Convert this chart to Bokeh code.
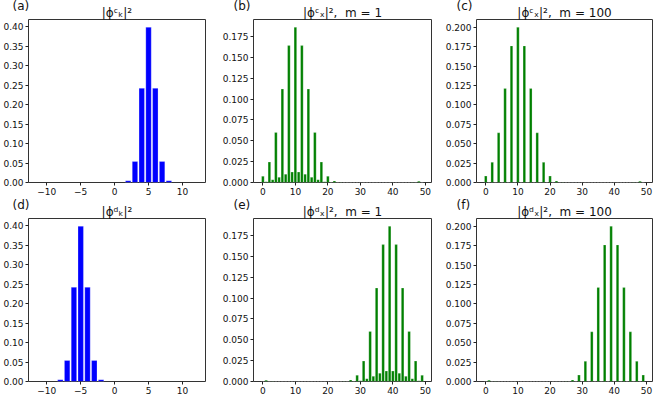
from bokeh.plotting import figure
from bokeh.models import FixedTicker, Range1d, PrintfTickFormatter, Title
from bokeh.layouts import row, column
from bokeh.embed import file_html
from bokeh.resources import INLINE

# ---------------- data ----------------
k_c = [2, 3, 4, 5, 6, 7, 8]
prob_k_c = [0.0045, 0.054, 0.242, 0.399, 0.242, 0.054, 0.0045]

k_d = [-8, -7, -6, -5, -4, -3, -2]
prob_k_d = [0.0045, 0.054, 0.242, 0.399, 0.242, 0.054, 0.0045]

sites = list(range(50))

prob_x_c_m1 = [
    0.0075, 0.0010, 0.0245, 0.0034, 0.0600, 0.0062, 0.1120, 0.0100, 0.1640, 0.0125,
    0.1860, 0.0125, 0.1640, 0.0100, 0.1120, 0.0062, 0.0600, 0.0034, 0.0245, 0.0010,
    0.0075, 0.0002, 0.0018, 0.0000, 0.0003, 0.0000, 0.0000, 0.0000, 0.0000, 0.0000,
    0.0000, 0.0000, 0.0000, 0.0000, 0.0000, 0.0000, 0.0000, 0.0000, 0.0000, 0.0000,
    0.0000, 0.0000, 0.0000, 0.0000, 0.0000, 0.0000, 0.0003, 0.0000, 0.0015, 0.0000,
]

prob_x_c_m100 = [
    0.0083, 0.0000, 0.0260, 0.0000, 0.0640, 0.0000, 0.1210, 0.0000, 0.1760, 0.0000,
    0.2000, 0.0000, 0.1760, 0.0000, 0.1210, 0.0000, 0.0640, 0.0000, 0.0260, 0.0000,
    0.0083, 0.0000, 0.0018, 0.0000, 0.0003, 0.0000, 0.0000, 0.0000, 0.0000, 0.0000,
    0.0000, 0.0000, 0.0000, 0.0000, 0.0000, 0.0000, 0.0000, 0.0000, 0.0000, 0.0000,
    0.0000, 0.0000, 0.0000, 0.0000, 0.0000, 0.0000, 0.0003, 0.0000, 0.0017, 0.0000,
]

prob_x_d_m1 = [
    0.0000, 0.0015, 0.0000, 0.0003, 0.0000, 0.0000, 0.0000, 0.0000, 0.0000, 0.0000,
    0.0000, 0.0000, 0.0000, 0.0000, 0.0000, 0.0000, 0.0000, 0.0000, 0.0000, 0.0000,
    0.0000, 0.0000, 0.0000, 0.0000, 0.0000, 0.0003, 0.0000, 0.0018, 0.0002, 0.0075,
    0.0010, 0.0245, 0.0034, 0.0600, 0.0062, 0.1120, 0.0100, 0.1640, 0.0125, 0.1860,
    0.0125, 0.1640, 0.0100, 0.1120, 0.0062, 0.0600, 0.0034, 0.0245, 0.0010, 0.0075,
]

prob_x_d_m100 = [
    0.0000, 0.0017, 0.0000, 0.0003, 0.0000, 0.0000, 0.0000, 0.0000, 0.0000, 0.0000,
    0.0000, 0.0000, 0.0000, 0.0000, 0.0000, 0.0000, 0.0000, 0.0000, 0.0000, 0.0000,
    0.0000, 0.0000, 0.0000, 0.0000, 0.0000, 0.0003, 0.0000, 0.0018, 0.0000, 0.0083,
    0.0000, 0.0260, 0.0000, 0.0640, 0.0000, 0.1210, 0.0000, 0.1760, 0.0000, 0.2000,
    0.0000, 0.1760, 0.0000, 0.1210, 0.0000, 0.0640, 0.0000, 0.0260, 0.0000, 0.0083,
]

k_ticks = [-10, -5, 0, 5, 10]
site_ticks = [0, 10, 20, 30, 40, 50]
k_yticks = [0.0, 0.05, 0.10, 0.15, 0.20, 0.25, 0.30, 0.35, 0.40]
m1_yticks = [0.0, 0.025, 0.05, 0.075, 0.1, 0.125, 0.15, 0.175]
m100_yticks = [0.0, 0.025, 0.05, 0.075, 0.1, 0.125, 0.15, 0.175, 0.2]

NB = "\u00a0"
titles = ["|ϕᶜₖ|²",
          "|ϕᶜₓ|²," + NB + NB + "m = 1",
          "|ϕᶜₓ|²," + NB + NB + "m = 100",
          "|ϕᵈₖ|²",
          "|ϕᵈₓ|²," + NB + NB + "m = 1",
          "|ϕᵈₓ|²," + NB + NB + "m = 100"]
panel_tags = ["(a)", "(b)", "(c)", "(d)", "(e)", "(f)"]

BLUE = "#0000ff"
GREEN = "#008000"
FONT = "DejaVu Sans"

FRAME_H = 163
BORDER_TOP = 19
BORDER_BOTTOM = 17


def make_panel(x, y, color, xr, yr, xticks, yticks, yfmt, title, tag,
               fw, bl, br, tag_dx):
    p = figure(frame_width=fw, frame_height=FRAME_H,
               min_border_left=bl, min_border_right=br,
               min_border_top=BORDER_TOP, min_border_bottom=BORDER_BOTTOM,
               x_range=Range1d(*xr), y_range=Range1d(*yr),
               output_backend="svg", toolbar_location=None)
    p.vbar(x=x, top=y, width=0.8, fill_color=color, line_color="white",
           line_width=0.4, line_alpha=0.6)
    p.grid.visible = False
    p.outline_line_color = "#333333"
    p.outline_line_width = 1
    for ax in (p.xaxis[0], p.yaxis[0]):
        ax.axis_line_color = None
        ax.major_tick_in = 0
        ax.major_tick_out = 3
        ax.minor_tick_line_color = None
        ax.major_tick_line_color = "#222222"
        ax.major_label_text_font = FONT
        ax.major_label_text_font_size = "9px"
        ax.major_label_text_color = "#111111"
        ax.major_label_standoff = 2
    p.xaxis.ticker = FixedTicker(ticks=xticks)
    p.yaxis.ticker = FixedTicker(ticks=yticks)
    p.yaxis.formatter = PrintfTickFormatter(format=yfmt)
    p.xaxis.major_label_overrides = {t: ("−" + str(-t) if t < 0 else str(t)) for t in xticks}
    p.add_layout(Title(text=title, align="center", vertical_align="bottom",
                       standoff=0, text_font=FONT, text_font_size="12px",
                       text_font_style="normal", text_color="#111111"), "above")
    p.add_layout(Title(text=tag, align="left", vertical_align="bottom",
                       offset=tag_dx, standoff=-18, text_font=FONT,
                       text_font_size="12px", text_font_style="normal",
                       text_color="#111111"), "above")
    return p


k_xr = (-12.7, 13.4)
s_xr = (-2.89, 51.89)

pa = make_panel(k_c, prob_k_c, BLUE, k_xr, (0, 0.419), k_ticks, k_yticks, "%.2f",
                titles[0], panel_tags[0], 177, 28, 14, -16)
pb = make_panel(sites, prob_x_c_m1, GREEN, s_xr, (0, 0.1953), site_ticks, m1_yticks, "%.3f",
                titles[1], panel_tags[1], 178, 31, 11, -20)
pc = make_panel(sites, prob_x_c_m100, GREEN, s_xr, (0, 0.21), site_ticks, m100_yticks, "%.3f",
                titles[2], panel_tags[2], 176, 32, 2, -20)
pd = make_panel(k_d, prob_k_d, BLUE, k_xr, (0, 0.419), k_ticks, k_yticks, "%.2f",
                titles[3], panel_tags[3], 177, 28, 14, -16)
pe = make_panel(sites, prob_x_d_m1, GREEN, s_xr, (0, 0.1953), site_ticks, m1_yticks, "%.3f",
                titles[4], panel_tags[4], 178, 31, 11, -20)
pf = make_panel(sites, prob_x_d_m100, GREEN, s_xr, (0, 0.21), site_ticks, m100_yticks, "%.3f",
                titles[5], panel_tags[5], 176, 32, 2, -20)

layout = column(row(pa, pb, pc, spacing=0), row(pd, pe, pf, spacing=0), spacing=0)

open("out.html", "w").write(file_html(layout, INLINE))
